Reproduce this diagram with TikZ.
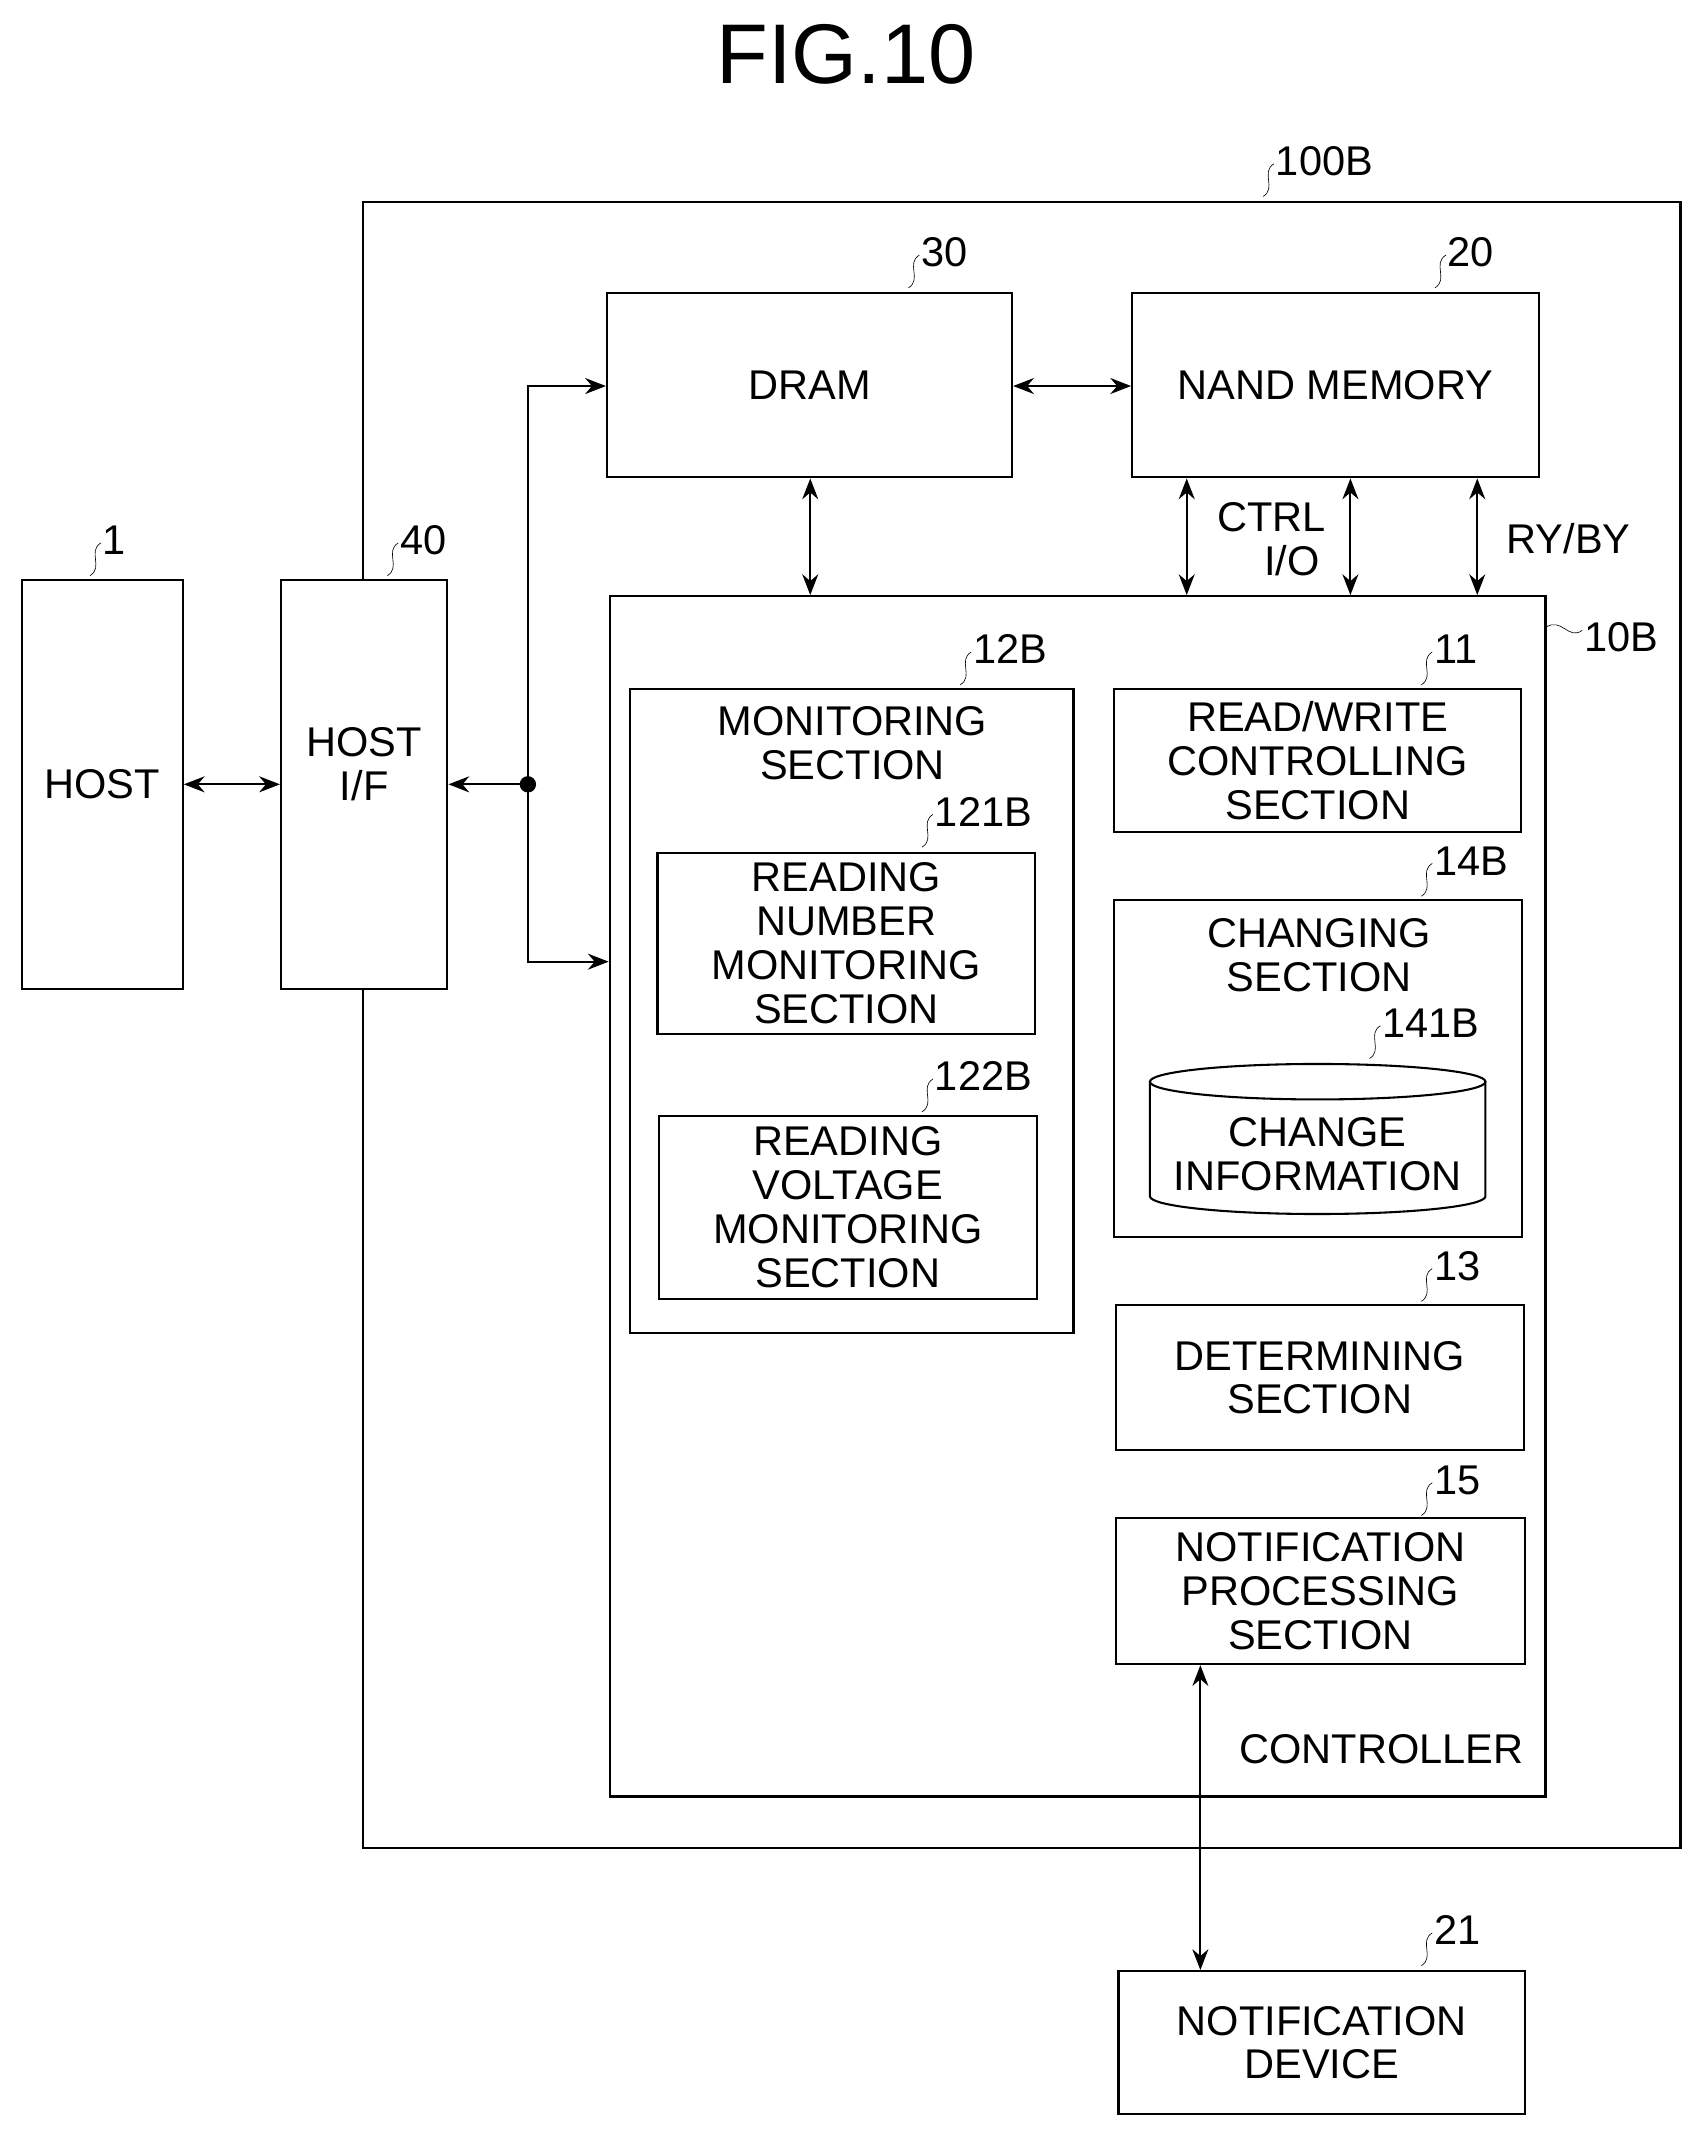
\documentclass[tikz,border=0pt]{standalone}
\usepackage{fontspec}
\setmainfont{Liberation Sans}
\usetikzlibrary{arrows.meta}
\newcommand\bx[6]{\node[box,minimum width={(#4-#2)*0.03cm},minimum height={(#5-#3)*0.03cm}] (#1) at ({(#2+#4)/2},{(#3+#5)/2}) {#6};}
\newcommand\lbl[3]{\draw[thin] ({#1-14},{#2+14}) .. controls ({#1-4},{#2+8}) and ({#1-16},{#2-4}) .. ({#1-6},{#2-10}); \node[lab,anchor=west] at ({#1-6},{#2-12}) {#3};}
\begin{document}
\begin{tikzpicture}[x=0.03cm,y=-0.03cm,
 box/.style={draw,fill=white,line width=1.3pt,align=center,inner sep=0pt,font=\fontsize{26}{27.5}\selectfont},
 lab/.style={font=\fontsize{26}{28}\selectfont,inner sep=1pt},
 txt/.style={align=center,font=\fontsize{26}{27.5}\selectfont,inner sep=0pt},
 arr/.style={line width=1.3pt,{Stealth[length=13pt,width=10pt]}-{Stealth[length=13pt,width=10pt]}},
 one/.style={line width=1.3pt,-{Stealth[length=13pt,width=10pt]}}]
\useasboundingbox (0,0) rectangle (1250,1563);
\node[font=\fontsize{53}{56}\selectfont] (title) at (620,40) {FIG.10};
\draw[line width=1.3pt] (266,148) rectangle (1232,1355);
\lbl{940}{130}{100B}
\bx{dram}{445}{215}{742}{350}{DRAM}
\lbl{680}{197}{30}
\bx{nand}{830}{215}{1128}{350}{NAND MEMORY}
\lbl{1066}{197}{20}
\bx{host}{16}{425}{134}{725}{HOST}
\lbl{80}{408}{1}
\bx{hif}{206}{425}{328}{725}{}
\node[txt] (hiftxt) at (267,560) {HOST\\I/F};
\lbl{298}{408}{40}
\bx{ctrl}{447}{437}{1133}{1317}{}
\draw[thin] (1133,460) .. controls (1145,452) and (1150,470) .. (1160,462);
\node[lab,anchor=west] (l10b) at (1160,467) {10B};
\node[txt,anchor=east] (ctrltxt) at (1117,1282) {CONTROLLER};
\bx{mon}{462}{505}{787}{977}{}
\node[txt] (montxt) at (625,545) {MONITORING\\SECTION};
\lbl{718}{488}{12B}
\bx{rn}{482}{625}{759}{758}{READING\\NUMBER\\MONITORING\\SECTION}
\lbl{690}{607}{121B}
\bx{rv}{483}{818}{760}{952}{READING\\VOLTAGE\\MONITORING\\SECTION}
\lbl{690}{801}{122B}
\bx{rw}{817}{505}{1115}{610}{READ/WRITE\\CONTROLLING\\SECTION}
\lbl{1056}{488}{11}
\bx{chg}{817}{660}{1116}{907}{}
\node[txt] (chgtxt) at (967,700) {CHANGING\\SECTION};
\lbl{1056}{643}{14B}
\draw[line width=1.3pt] (966,793) ellipse[x radius=123,y radius=13];
\draw[line width=1.3pt] (843,793) -- (843,877) arc[start angle=180,end angle=360,x radius=123,y radius=-13] -- (1089,793);
\node[txt] (cyltxt) at (966,846) {CHANGE\\INFORMATION};
\lbl{1018}{762}{141B}
\bx{det}{818}{957}{1117}{1063}{DETERMINING\\SECTION}
\lbl{1056}{940}{13}
\bx{np}{818}{1113}{1118}{1220}{NOTIFICATION\\PROCESSING\\SECTION}
\lbl{1056}{1097}{15}
\bx{nd}{820}{1445}{1118}{1550}{NOTIFICATION\\DEVICE}
\lbl{1056}{1427}{21}
\draw[arr] (host.east|-0,575) -- (hif.west|-0,575);
\coordinate (dot) at (387,575);
\fill (dot) circle (6);
\draw[one] (dot) -- (hif.east|-dot);
\draw[one] (dot) |- (dram.west|-0,283);
\draw[one] (dot) |- (ctrl.west|-0,705);
\draw[arr] (dram.east|-0,283) -- (nand.west|-0,283);
\draw[arr] (dram.south-|594,0) -- (ctrl.north-|594,0);
\draw[arr] (nand.south-|870,0) -- (ctrl.north-|870,0);
\draw[arr] (nand.south-|990,0) -- (ctrl.north-|990,0);
\draw[arr] (nand.south-|1083,0) -- (ctrl.north-|1083,0);
\node[txt] (ctrlio) at (932,395) {CTRL\\\hspace{1em}I/O};
\node[txt] (ryby) at (1150,395) {RY/BY};
\draw[arr] (np.south-|880,0) -- (nd.north-|880,0);
\end{tikzpicture}
\end{document}
